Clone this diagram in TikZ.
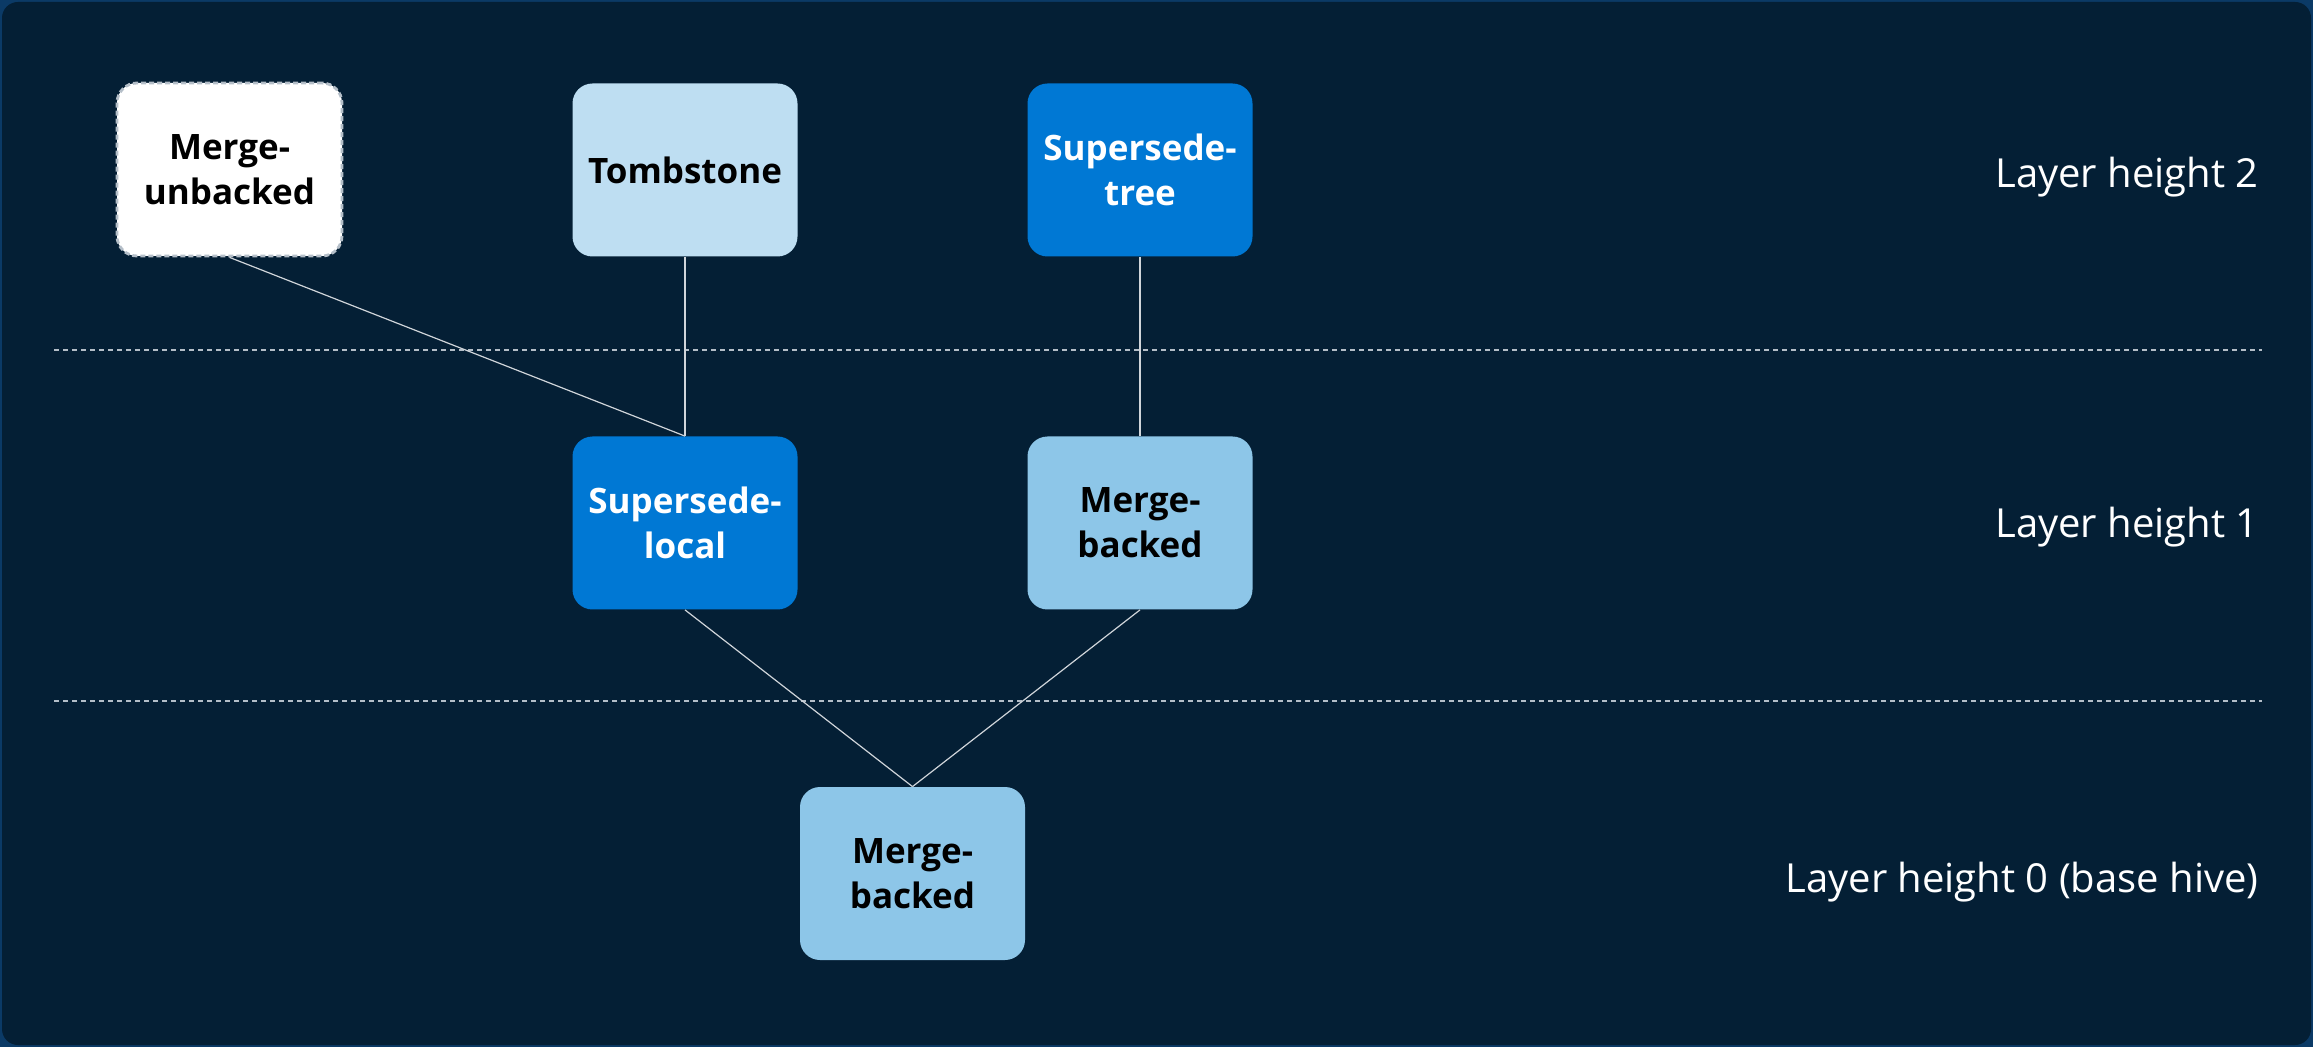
\documentclass[tikz,border=0pt]{standalone}
\usepackage{fontspec}
\setmainfont{Open Sans}
\definecolor{bgdark}{HTML}{041F35}
\definecolor{bgedge}{HTML}{0B3A66}
\definecolor{tomb}{HTML}{BEDEF2}
\definecolor{supblue}{HTML}{0078D4}
\definecolor{mback}{HTML}{8DC6E8}
\definecolor{dashgray}{HTML}{B4BEC8}
\definecolor{linegray}{HTML}{D0D5DA}
\begin{document}
\begin{tikzpicture}[x=0.5pt,y=-0.5pt,
  box/.style={rounded corners=10pt, minimum width=112.5pt, minimum height=86.5pt,
    inner sep=0pt, align=center, font=\fontsize{17.5}{22.5}\selectfont\bfseries, text=black},
  tombbox/.style={box, fill=tomb},
  supbox/.style={box, fill=supblue, text=white},
  mbbox/.style={box, fill=mback},
  mubox/.style={box, fill=white, draw=dashgray, line width=1.4pt, dash pattern=on 2.5pt off 1.5pt},
  conn/.style={draw=linegray, line width=0.6pt},
  layerline/.style={draw=dashgray, line width=0.9pt, dash pattern=on 2.5pt off 2pt},
  layerlabel/.style={anchor=east, text=white, font=\fontsize{20}{24}\selectfont, inner sep=0pt}]
\fill[bgedge] (0,0) rectangle (2313,1047);
\fill[bgdark, rounded corners=8pt] (2,2) rectangle (2311,1045);
\useasboundingbox (0,0) rectangle (2313,1047);

\coordinate (d1l) at (54,350);
\coordinate (d1r) at (2262,350);
\coordinate (d2l) at (54,701);
\coordinate (d2r) at (2262,701);
\draw[layerline] (d1l) -- (d1r);
\draw[layerline] (d2l) -- (d2r);

\node[mubox] (mu) at (229.5,169.5) {Merge-\\unbacked};
\node[tombbox] (ts) at (685,170) {Tombstone};
\node[supbox] (st) at (1140,170) {Supersede-\\tree};
\node[supbox] (sl) at (685,523) {Supersede-\\local};
\node[mbbox] (mb1) at (1140,523) {Merge-\\backed};
\node[mbbox] (mb0) at (912.5,873.5) {Merge-\\backed};

\node[layerlabel] (l2) at (2259,177) {Layer height 2};
\node[layerlabel] (l1) at (2259,527) {Layer height 1};
\node[layerlabel] (l0) at (2259,882) {Layer height 0 (base hive)};

\draw[conn] (mu.south) -- (sl.north);
\draw[conn] (ts.south) -- (sl.north);
\draw[conn] (st.south) -- (mb1.north);
\draw[conn] (sl.south) -- (mb0.north);
\draw[conn] (mb1.south) -- (mb0.north);
\end{tikzpicture}
\end{document}
